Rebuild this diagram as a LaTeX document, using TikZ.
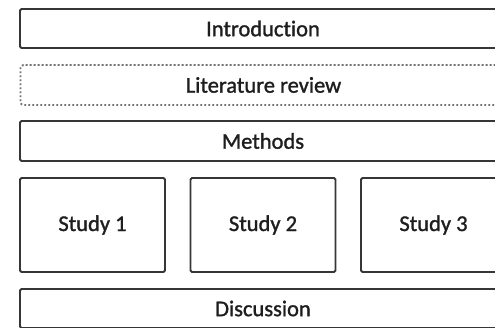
\documentclass[tikz,border=0pt]{standalone}
\usepackage{fontspec}
\setmainfont{Carlito}[Ligatures=NoCommon, FakeBold=1.3]
\begin{document}
\begin{tikzpicture}[x=1pt,y=-1pt,
  box/.style={draw=boxline, line width=1.8pt, rounded corners=1.5pt, inner sep=0pt,
    font=\fontsize{22.5}{24}\selectfont, text=txt, anchor=center},
  wide/.style={box, minimum width=486pt, minimum height=39pt},
  dotbox/.style={wide, draw=dotline, line width=1.8pt, dash pattern=on 1.8pt off 2.2pt, rounded corners=3pt},
  studybox/.style={box, minimum width=145pt, minimum height=94pt}]
\definecolor{boxline}{HTML}{363636}
\definecolor{dotline}{HTML}{6E6E6E}
\definecolor{txt}{HTML}{1E1E1E}
\useasboundingbox (0,0) rectangle (495,327);
\clip (0,0) rectangle (495,327);
\node[wide] (intro) at (263,28.5) {Introduction};
\node[dotbox, minimum height=40pt] (lit) at (263.5,85) {Literature review};
\node[wide, minimum height=40pt] (methods) at (263,141) {Methods};
\node[studybox] (s1) at (92.5,225) {Study 1};
\node[studybox] (s2) at (263,225) {Study 2};
\node[studybox] (s3) at (433.5,225) {Study 3};
\node[wide] (disc) at (263,308.5) {Discussion};
\end{tikzpicture}
\end{document}
